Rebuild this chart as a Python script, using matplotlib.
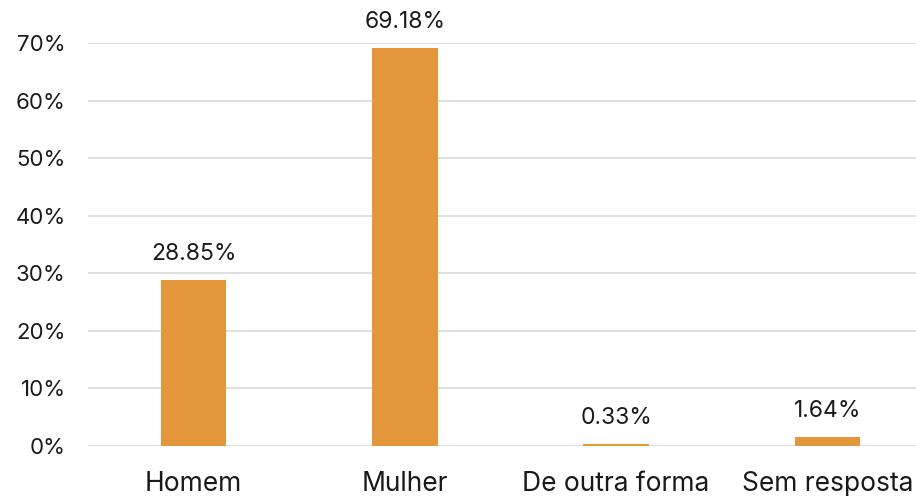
import matplotlib
matplotlib.use("Agg")
import matplotlib.pyplot as plt
from matplotlib.ticker import PercentFormatter

# data
categories = ["Homem", "Mulher", "De outra forma", "Sem resposta"]
values = [28.85, 69.18, 0.33, 1.64]
labels = ["28.85%", "69.18%", "0.33%", "1.64%"]

plt.rcParams['font.family'] = ['Inter', 'DejaVu Sans']

fig = plt.figure(figsize=(9.16, 4.96), dpi=100)
# axes runs slightly past the right edge, as in the original
ax = fig.add_axes([88 / 916, 50 / 496, 845 / 916, 403 / 496])

x = range(len(categories))
ax.bar(x, values, width=0.31, color="#E3963A", zorder=3)

for i, v in enumerate(values):
    ax.text(i, v + 2.6, labels[i], ha="center", va="bottom", fontsize=16.5, color="#1a1a1a")

ax.set_xlim(-0.5, 3.5)
ax.set_ylim(0, 70)
ax.set_yticks(range(0, 71, 10))
ax.yaxis.set_major_formatter(PercentFormatter(decimals=0))
ax.set_xticks(list(x))
ax.set_xticklabels(categories, fontsize=19, color="#1a1a1a")
ax.tick_params(axis="x", length=0, pad=18)
ax.tick_params(axis="y", length=0, pad=16, labelsize=16, labelcolor="#1a1a1a")

ax.grid(axis="y", color="#d9d9d9", linewidth=1.2, zorder=0)
for s in ax.spines.values():
    s.set_visible(False)

fig.savefig("out.png", dpi=100)
